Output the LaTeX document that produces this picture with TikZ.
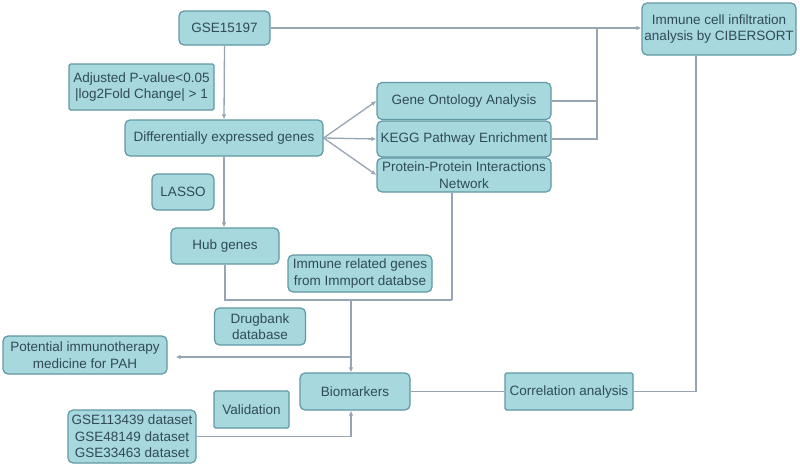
\documentclass[tikz,border=0pt]{standalone}
\usepackage{fontspec}
\setmainfont{Liberation Sans}
\usetikzlibrary{arrows.meta,calc}
\definecolor{boxfill}{RGB}{166,216,222}
\definecolor{boxline}{RGB}{96,152,164}
\definecolor{txt}{RGB}{48,74,90}
\definecolor{conn}{RGB}{150,164,180}
\tikzset{
  base/.style={draw=boxline, fill=boxfill, line width=1.2pt, text=txt, font=\fontsize{13.5}{16.5}\selectfont, align=center, inner sep=1pt, anchor=center},
  rbox/.style={base, rounded corners=5pt},
  sbox/.style={base, rounded corners=1.5pt},
  conn/.style={draw=conn, line width=1.3pt},
  arr/.style={conn, -{Latex[length=5pt,width=4.5pt]}},
}
\begin{document}
\begin{tikzpicture}[x=1pt,y=-1pt]
\useasboundingbox (0,0) rectangle (800,467);
% nodes
\node[rbox, minimum width=91pt, minimum height=34pt] (gse) at (224.5,28) {GSE15197};
\node[sbox, minimum width=145pt, minimum height=46pt] (adj) at (141.5,87) {Adjusted P-value<0.05\\|log2Fold Change| > 1};
\node[rbox, minimum width=198pt, minimum height=36pt] (deg) at (224,138) {Differentially expressed genes};
\node[rbox, minimum width=62pt, minimum height=36pt] (lasso) at (183,192) {LASSO};
\node[rbox, minimum width=108pt, minimum height=36pt] (hub) at (225,246) {Hub genes};
\node[rbox, minimum width=144pt, minimum height=37pt] (imm) at (360,273.5) {Immune related genes\\from Immport databse};
\node[rbox, minimum width=91pt, minimum height=37pt] (drug) at (260,326.5) {Drugbank\\database};
\node[rbox, minimum width=164pt, minimum height=38pt] (pot) at (85,355) {Potential immunotherapy\\medicine for PAH};
\node[rbox, minimum width=110pt, minimum height=37pt] (bio) at (355,391.5) {Biomarkers};
\node[sbox, minimum width=75pt, minimum height=37pt] (val) at (251.5,409.5) {Validation};
\node[rbox, minimum width=128pt, minimum height=53pt] (gsed) at (132,436.5) {GSE113439 dataset\\GSE48149 dataset\\GSE33463 dataset};
\node[sbox, minimum width=128pt, minimum height=37pt] (corr) at (569,391.5) {Correlation analysis};
\node[rbox, minimum width=174pt, minimum height=37pt] (go) at (464,101) {Gene Ontology Analysis};
\node[rbox, minimum width=174pt, minimum height=36pt] (kegg) at (464,139) {KEGG Pathway Enrichment};
\node[rbox, minimum width=174pt, minimum height=34pt] (ppi) at (464,175) {Protein-Protein Interactions\\Network};
\node[rbox, minimum width=154pt, minimum height=52pt] (cib) at (719,29) {Immune cell infiltration\\analysis by CIBERSORT};
% junction coordinates
\coordinate (j) at (597,28);
\coordinate (m) at (351,300);
\coordinate (pp) at (452,300);
\coordinate (p) at (351,357);
\coordinate (c) at (696,391.5);
% connectors
\draw[arr] (gse.east) -- (gse.east -| cib.west);
\draw[conn] (go.east) -| (j);
\draw[conn] (kegg.east) -| (j);
\draw[arr] (gse.south) -- (deg.north);
\draw[arr] (deg.east) -- (go.west);
\draw[arr] (deg.east) -- (kegg.west);
\draw[arr] (deg.east) -- (ppi.west);
\draw[arr] (deg.south) -- (deg.south |- hub.north);
\draw[conn] (hub.south) |- (pp);
\draw[conn] (pp) -- (pp |- ppi.south);
\draw[arr] (m) -- (m |- bio.north);
\draw[arr, shorten >=8pt] (p) -- (p -| pot.east);
\draw[arr] (gsed.east) -| (m |- bio.south);
\draw[conn] (bio.east) -- (corr.west);
\draw[conn] (corr.east) -- (c) -- (c |- cib.south);
\end{tikzpicture}
\end{document}
